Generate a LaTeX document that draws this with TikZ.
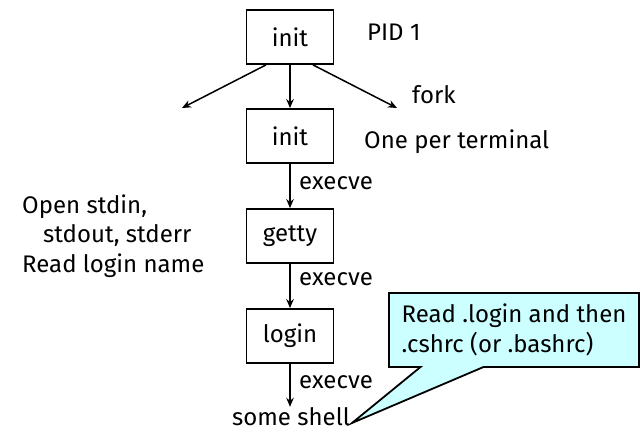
\documentclass[tikz,border=0pt]{standalone}
\usepackage{fontspec}
\setmainfont{Fira Sans}
\usetikzlibrary{arrows.meta,shapes.callouts}
\definecolor{notefill}{RGB}{204,255,255}
\begin{document}
\begin{tikzpicture}[x=1pt,y=-1pt,
  font=\fontsize{24}{29.5}\selectfont,
  proc/.style={draw,line width=1.8pt,minimum width=87pt,minimum height=54pt,inner sep=0pt},
  lbl/.style={anchor=base west,inner sep=0pt,align=left},
  flow/.style={line width=1.5pt,-{Stealth[length=9pt,width=7.5pt]}}]
  \useasboundingbox (0,0) rectangle (640,432);

  % process chain
  \node[proc] (top)   at (290,37)  {init};
  \node[proc] (term)  at (290,136) {init};
  \node[proc] (getty) at (290,236) {getty};
  \node[proc] (login) at (290,336) {login};
  \node[lbl]  (shell) at (232,425) {some shell};

  % side labels
  \node[lbl] (pid)  at (367,40)  {PID 1};
  \node[lbl] (fork) at (412,103) {fork};
  \node[lbl] (per)  at (364,148) {One per terminal};
  \node[lbl] (ex1)  at (299,189) {execve};
  \node[lbl] (ex2)  at (299,285) {execve};
  \node[lbl] (ex3)  at (299,388) {execve};
  \node[lbl] (open) at (22,272)  {Open stdin,\\\hspace*{21pt}stdout, stderr\\Read login name};

  % fork fan-out
  \coordinate (forkL) at (182,108);
  \coordinate (forkR) at (397,108);
  \draw[flow] ([xshift=-24pt]top.south) -- (forkL);
  \draw[flow] (top.south) -- (term.north);
  \draw[flow] ([xshift=23pt]top.south) -- (forkR);

  % exec chain
  \draw[flow] (term.south) -- (getty.north);
  \draw[flow] (getty.south) -- (login.north);
  \draw[flow] (login.south) -- (login.south |- shell.north);

  % note on the shell start-up files
  \coordinate (tip) at (352,423);
  \node[rectangle callout,draw,line width=1.8pt,fill=notefill,
        minimum width=250pt,minimum height=74pt,inner sep=0pt,align=left,
        callout absolute pointer={(tip)},callout pointer width=63pt]
        (note) at (514,330) {Read .login and then\\.cshrc (or .bashrc)};
\end{tikzpicture}
\end{document}
